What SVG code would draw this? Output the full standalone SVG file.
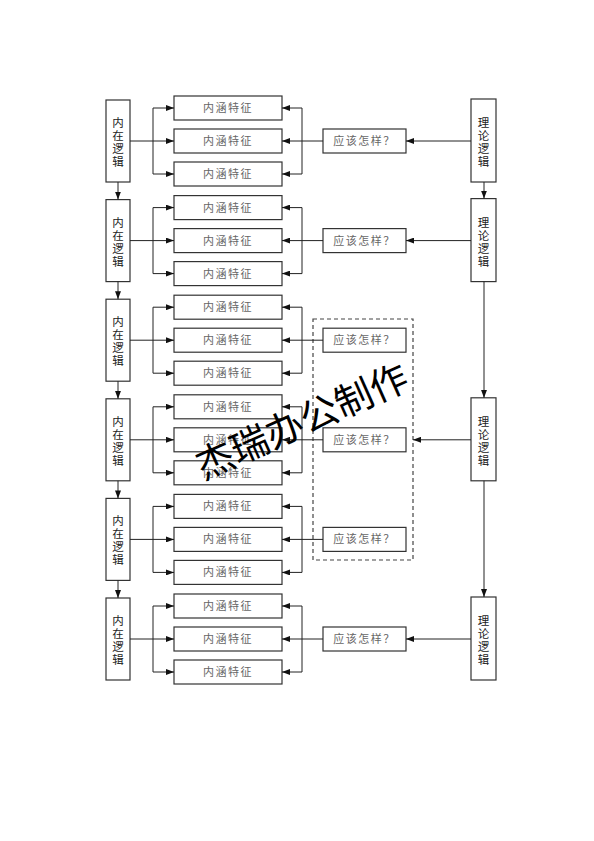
<svg xmlns="http://www.w3.org/2000/svg" width="594" height="841" viewBox="0 0 594 841">
<style>
.box{fill:#fff;stroke:#333;stroke-width:1.2}
.ln{fill:none;stroke:#222;stroke-width:1}
.ar{fill:none;stroke:#222;stroke-width:1;marker-end:url(#ah)}
.ft{font-family:"Noto Sans CJK SC","Liberation Sans",sans-serif;font-size:11px;fill:#666;text-anchor:middle;letter-spacing:1.5px}
.vt{font-family:"Noto Sans CJK SC","Liberation Sans",sans-serif;font-size:11.5px;fill:#222;text-anchor:middle}
.wm{font-family:"Noto Sans CJK SC","Liberation Sans",sans-serif;font-size:38px;fill:#000;text-anchor:middle}
</style>
<defs>
<marker id="ah" viewBox="0 0 8 6" refX="8" refY="3" markerWidth="8" markerHeight="6" orient="auto" markerUnits="userSpaceOnUse">
<path d="M0,0 L8,3 L0,6 z" fill="#111"/>
</marker>
<g id="leftset">
<rect class="box" x="106" y="100" width="24" height="82"/>
<text class="vt" x="118" y="127">内</text>
<text class="vt" x="118" y="140">在</text>
<text class="vt" x="118" y="153">逻</text>
<text class="vt" x="118" y="166">辑</text>
<rect class="box" x="174" y="96" width="108" height="24"/>
<text class="ft" x="228" y="112">内涵特征</text>
<rect class="box" x="174" y="129" width="108" height="24"/>
<text class="ft" x="228" y="145">内涵特征</text>
<rect class="box" x="174" y="162" width="108" height="24"/>
<text class="ft" x="228" y="178">内涵特征</text>
</g>
<g id="rightset">
<rect class="box" x="471" y="99" width="25" height="83"/>
<text class="vt" x="483.5" y="127">理</text>
<text class="vt" x="483.5" y="140">论</text>
<text class="vt" x="483.5" y="153">逻</text>
<text class="vt" x="483.5" y="166">辑</text>
</g>
<g id="askset">
<rect class="box" x="323" y="129" width="83" height="24"/>
<text class="ft" x="364.5" y="145">应该怎样？</text>
</g>
<g id="bracket">
<path class="ar" d="M130 141 H174"/>
<path class="ln" d="M153 108 V174"/>
<path class="ar" d="M153 108 H174"/>
<path class="ar" d="M153 174 H174"/>
<path class="ln" d="M302 108 V174"/>
<path class="ar" d="M302 108 H282"/>
<path class="ar" d="M302 141 H282"/>
<path class="ar" d="M302 174 H282"/>
<path class="ln" d="M302 141 H323"/>
</g>
</defs>

<g id="inner1"><use href="#leftset"/></g>
<g id="inner2" transform="translate(0,99.6)"><use href="#leftset"/></g>
<g id="inner3" transform="translate(0,199.2)"><use href="#leftset"/></g>
<g id="inner4" transform="translate(0,298.8)"><use href="#leftset"/></g>
<g id="inner5" transform="translate(0,398.4)"><use href="#leftset"/></g>
<g id="inner6" transform="translate(0,498)"><use href="#leftset"/></g>

<g id="ask1"><use href="#askset"/></g>
<g id="ask2" transform="translate(0,99.6)"><use href="#askset"/></g>
<g id="ask3" transform="translate(0,199.2)"><use href="#askset"/></g>
<g id="ask4" transform="translate(0,298.8)"><use href="#askset"/></g>
<g id="ask5" transform="translate(0,398.4)"><use href="#askset"/></g>
<g id="ask6" transform="translate(0,498)"><use href="#askset"/></g>

<g id="dashed"><rect x="313" y="319" width="100" height="241" fill="none" stroke="#444" stroke-width="1.2" stroke-dasharray="4,3"/></g>

<g id="theory1"><use href="#rightset"/></g>
<g id="theory2" transform="translate(0,99.6)"><use href="#rightset"/></g>
<g id="theory3" transform="translate(0,298.8)"><use href="#rightset"/></g>
<g id="theory4" transform="translate(0,498)"><use href="#rightset"/></g>

<g id="connectors">
<use href="#bracket"/>
<use href="#bracket" transform="translate(0,99.6)"/>
<use href="#bracket" transform="translate(0,199.2)"/>
<use href="#bracket" transform="translate(0,298.8)"/>
<use href="#bracket" transform="translate(0,398.4)"/>
<use href="#bracket" transform="translate(0,498)"/>
<path class="ar" d="M118 182 V199.6"/>
<path class="ar" d="M118 281.6 V299.2"/>
<path class="ar" d="M118 381.2 V398.8"/>
<path class="ar" d="M118 480.8 V498.4"/>
<path class="ar" d="M118 580.4 V598"/>
<path class="ar" d="M484 182 V198.6"/>
<path class="ar" d="M484 281.6 V397.8"/>
<path class="ar" d="M484 480.8 V597"/>
<path class="ar" d="M471 141 H406"/>
<path class="ar" d="M471 240.6 H406"/>
<path class="ar" d="M471 439.8 H413"/>
<path class="ar" d="M471 639 H406"/>
</g>

<text class="wm" transform="translate(302,422) rotate(-24)" x="0" y="13">杰瑞办公制作</text>
</svg>
